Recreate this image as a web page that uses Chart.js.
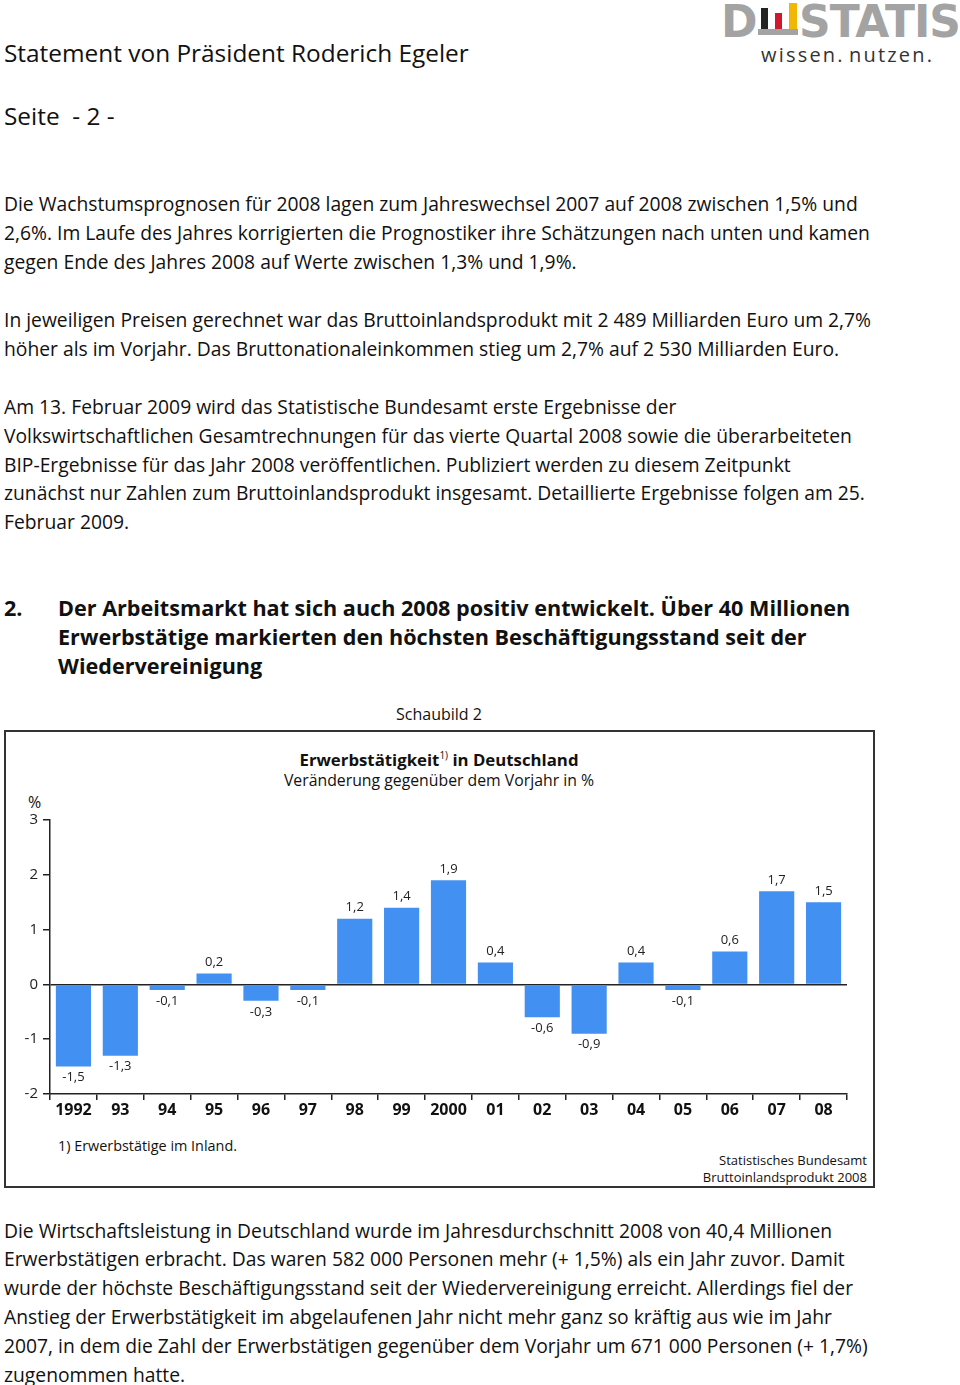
<!DOCTYPE html>
<html lang="de">
<head>
<meta charset="utf-8">
<script src="https://cdn.jsdelivr.net/npm/chart.js@4.4.1/dist/chart.umd.min.js"></script>
<style>
  html, body { margin: 0; padding: 0; background: #fff; }
  body { width: 960px; height: 1385px; position: relative; overflow: hidden;
         font-family: "Open Sans", "Noto Sans", sans-serif; color: #111; }
  .t { position: absolute; white-space: nowrap; transform: translateY(-50%); line-height: 1; }
  .body { font-size: 19.3px; left: 4px; }
  .h { font-size: 21.6px; font-weight: bold; }
  #box { position: absolute; left: 4px; top: 730px; width: 867px; height: 454px; border: 2px solid #333; }
  #wrap { position: absolute; left: 0px; top: 790px; width: 875px; height: 334px; }
  .logo { position: absolute; font-family: "DejaVu Sans", sans-serif; font-weight: bold; color: #a3a3a3; }
</style>
</head>
<body>
<!-- Logo -->
<div class="logo" style="left:721px; top:-4px; font-size:44px; letter-spacing:0px;">D</div>
<div class="logo" style="left:799px; top:-4px; font-size:44px; letter-spacing:-1px;">STATIS</div>
<div style="position:absolute; left:761px; top:8px; width:7px; height:21px; background:#222;"></div>
<div style="position:absolute; left:775px; top:13px; width:7px; height:16px; background:#d0192c;"></div>
<div style="position:absolute; left:789px; top:3px; width:8px; height:26px; background:#f2b705;"></div>
<div style="position:absolute; left:758px; top:29px; width:40px; height:6px; background:#a3a3a3;"></div>
<div class="t" style="left:761px; top:55px; font-size:20px; letter-spacing:2.2px; color:#333;">wissen.&#8202;nutzen.</div>

<!-- Header -->
<div class="t" style="left:4px; top:53px; font-size:24.4px;">Statement von Präsident Roderich Egeler</div>
<div class="t" style="left:4px; top:116px; font-size:24.4px;">Seite &nbsp;- 2 -</div>

<!-- Body text -->
<div class="t body" style="top:204px;">Die Wachstumsprognosen für 2008 lagen zum Jahreswechsel 2007 auf 2008 zwischen 1,5% und</div>
<div class="t body" style="top:233px;">2,6%. Im Laufe des Jahres korrigierten die Prognostiker ihre Schätzungen nach unten und kamen</div>
<div class="t body" style="top:262px;">gegen Ende des Jahres 2008 auf Werte zwischen 1,3% und 1,9%.</div>
<div class="t body" style="top:320px;">In jeweiligen Preisen gerechnet war das Bruttoinlandsprodukt mit 2 489 Milliarden Euro um 2,7%</div>
<div class="t body" style="top:349px;">höher als im Vorjahr. Das Bruttonationaleinkommen stieg um 2,7% auf 2 530 Milliarden Euro.</div>
<div class="t body" style="top:407px;">Am 13. Februar 2009 wird das Statistische Bundesamt erste Ergebnisse der</div>
<div class="t body" style="top:436px;">Volkswirtschaftlichen Gesamtrechnungen für das vierte Quartal 2008 sowie die überarbeiteten</div>
<div class="t body" style="top:465px;">BIP-Ergebnisse für das Jahr 2008 veröffentlichen. Publiziert werden zu diesem Zeitpunkt</div>
<div class="t body" style="top:493px;">zunächst nur Zahlen zum Bruttoinlandsprodukt insgesamt. Detaillierte Ergebnisse folgen am 25.</div>
<div class="t body" style="top:522px;">Februar 2009.</div>

<!-- Heading -->
<div class="t h" style="left:4px; top:608px;">2.</div>
<div class="t h" style="left:58px; top:608px;">Der Arbeitsmarkt hat sich auch 2008 positiv entwickelt. Über 40 Millionen</div>
<div class="t h" style="left:58px; top:637px;">Erwerbstätige markierten den höchsten Beschäftigungsstand seit der</div>
<div class="t h" style="left:58px; top:666px;">Wiedervereinigung</div>

<div class="t" style="left:439px; top:714px; font-size:16px; transform:translate(-50%,-50%);">Schaubild 2</div>

<!-- Chart box -->
<div id="box"></div>
<div class="t" style="left:439px; top:759px; font-size:16.8px; font-weight:bold; transform:translate(-50%,-50%);">Erwerbstätigkeit<sup style="font-size:10px; font-weight:normal; vertical-align:7px;">1)</sup> in Deutschland</div>
<div class="t" style="left:439px; top:781px; font-size:15.8px; transform:translate(-50%,-50%);">Veränderung gegenüber dem Vorjahr in %</div>
<div class="t" style="left:28px; top:802px; font-size:16px;">%</div>
<div id="wrap"><canvas id="c" width="875" height="334"></canvas></div>
<div class="t" style="left:58px; top:1146px; font-size:14.4px;">1) Erwerbstätige im Inland.</div>
<div class="t" style="right:93px; top:1160px; font-size:13px; text-align:right;">Statistisches Bundesamt</div>
<div class="t" style="right:93px; top:1177px; font-size:13px; text-align:right;">Bruttoinlandsprodukt 2008</div>

<!-- Bottom text -->
<div class="t body" style="top:1231px;">Die Wirtschaftsleistung in Deutschland wurde im Jahresdurchschnitt 2008 von 40,4 Millionen</div>
<div class="t body" style="top:1259px;">Erwerbstätigen erbracht. Das waren 582 000 Personen mehr (+ 1,5%) als ein Jahr zuvor. Damit</div>
<div class="t body" style="top:1288px;">wurde der höchste Beschäftigungsstand seit der Wiedervereinigung erreicht. Allerdings fiel der</div>
<div class="t body" style="top:1317px;">Anstieg der Erwerbstätigkeit im abgelaufenen Jahr nicht mehr ganz so kräftig aus wie im Jahr</div>
<div class="t body" style="top:1346px;">2007, in dem die Zahl der Erwerbstätigen gegenüber dem Vorjahr um 671 000 Personen (+ 1,7%)</div>
<div class="t body" style="top:1375px;">zugenommen hatte.</div>

<script>
const years = ["1992","93","94","95","96","97","98","99","2000","01","02","03","04","05","06","07","08"];
const changes = [-1.5,-1.3,-0.1,0.2,-0.3,-0.1,1.2,1.4,1.9,0.4,-0.6,-0.9,0.4,-0.1,0.6,1.7,1.5];
const yTicks = [-2,-1,0,1,2,3];

const FONT = '"Open Sans", "Noto Sans", sans-serif';
const valueLabels = {
  id: 'valueLabels',
  afterDatasetsDraw(chart) {
    const ctx = chart.ctx;
    const meta = chart.getDatasetMeta(0);
    ctx.save();
    ctx.font = '13px ' + FONT;
    ctx.fillStyle = '#222';
    ctx.textAlign = 'center';
    ctx.textBaseline = 'middle';
    meta.data.forEach((bar, i) => {
      const v = changes[i];
      const txt = String(v).replace('.', ',');
      const y = v >= 0 ? bar.y - 11 : bar.y + 11;
      ctx.fillText(txt, bar.x, y);
    });
    ctx.restore();
  }
};

new Chart(document.getElementById('c'), {
  type: 'bar',
  data: {
    labels: years,
    datasets: [{
      data: changes,
      backgroundColor: '#4290f2',
      borderWidth: 0,
      barPercentage: 0.75,
      categoryPercentage: 1.0
    }]
  },
  options: {
    responsive: false,
    animation: false,
    events: [],
    layout: { padding: { top: 30, right: 28, left: 0, bottom: 0 } },
    plugins: { legend: { display: false }, tooltip: { enabled: false }, title: { display: false } },
    scales: {
      x: {
        offset: true,
        grid: { offset: true, drawOnChartArea: false, color: '#222', tickColor: '#222', tickLength: 6, lineWidth: 1.5 },
        border: { display: true, color: '#222', width: 1.5 },
        ticks: { color: '#111', padding: 1, font: { family: FONT, size: 16, weight: 'bold' }, maxRotation: 0, autoSkip: false },
        afterFit(s) { s.height = 30; }
      },
      y: {
        min: -2, max: 3,
        afterBuildTicks(s) { s.ticks = yTicks.map(v => ({ value: v })); },
        grid: {
          drawOnChartArea: true,
          color: (c) => (c.tick && c.tick.value === 0 ? '#222' : 'rgba(0,0,0,0)'),
          tickColor: '#222', tickLength: 7, lineWidth: 1.5
        },
        border: { display: true, color: '#222', width: 1.5 },
        ticks: { color: '#222', padding: 5, font: { family: FONT, size: 15 }, callback: (v) => String(v) },
        afterFit(s) { s.width = 50; }
      }
    }
  },
  plugins: [valueLabels]
});
</script>
</body>
</html>
